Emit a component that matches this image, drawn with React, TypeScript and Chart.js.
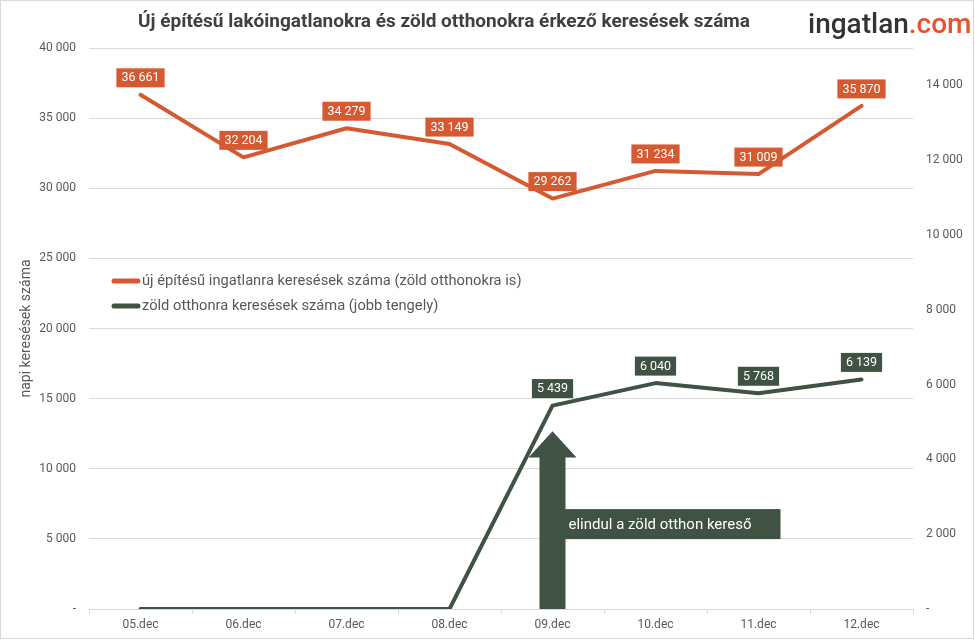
import React, { useEffect, useRef } from "react";
import { Chart, registerables } from "chart.js";

Chart.register(...registerables);

const categories = ["05.dec", "06.dec", "07.dec", "08.dec", "09.dec", "10.dec", "11.dec", "12.dec"];
const newBuildSearches = [36661, 32204, 34279, 33149, 29262, 31234, 31009, 35870];
const greenHomeSearches = [0, 0, 0, 0, 5439, 6040, 5768, 6139];
const leftTicks = [0, 5000, 10000, 15000, 20000, 25000, 30000, 35000, 40000];
const rightTicks = [0, 2000, 4000, 6000, 8000, 10000, 12000, 14000];

const titleText = "Új építésű lakóingatlanokra és zöld otthonokra érkező keresések száma";
const legendLabels = [
  "új építésű ingatlanra keresések száma (zöld otthonokra is)",
  "zöld otthonra keresések száma (jobb tengely)",
];
const yAxisTitle = "napi keresések száma";
const annotationText = "elindul a zöld otthon kereső";
const annotationIndex = 4;
const arrowTipValue = 4750;
const arrowHeadBaseValue = 4050;
const boxCenterValue = 2270;

const ORANGE = "#D65A31";
const GREEN = "#3F5244";
const GRID = "#D9D9D9";
const TEXT = "#595959";
const FONT = "Roboto, 'Noto Sans', sans-serif";

const fmt = (n: number) => (n === 0 ? "-" : String(n).replace(/\B(?=(\d{3})+(?!\d))/g, " "));

export default function App() {
  const ref = useRef<HTMLCanvasElement | null>(null);

  useEffect(() => {
    document.body.style.margin = "0";
    const canvas = ref.current;
    if (!canvas) return;

    const decorPlugin = {
      id: "decor",
      afterDatasetsDraw(chart: any) {
        const ctx = chart.ctx as CanvasRenderingContext2D;
        const x = chart.scales.x;
        const y = chart.scales.y;
        const y1 = chart.scales.y1;

        const drawLabels = (data: number[], scale: any, color: string) => {
          ctx.save();
          ctx.font = `12.5px ${FONT}`;
          ctx.textAlign = "center";
          ctx.textBaseline = "middle";
          data.forEach((v, i) => {
            if (v === 0) return;
            const px = x.getPixelForValue(i);
            const py = scale.getPixelForValue(v);
            const t = fmt(v);
            const w = ctx.measureText(t).width + 10;
            const h = 19;
            const cy = py - 17;
            ctx.fillStyle = color;
            ctx.fillRect(px - w / 2, cy - h / 2, w, h);
            ctx.fillStyle = "#FFFFFF";
            ctx.fillText(t, px, cy + 0.5);
          });
          ctx.restore();
        };
        drawLabels(newBuildSearches, y, ORANGE);
        drawLabels(greenHomeSearches, y1, GREEN);

        const ax = x.getPixelForValue(annotationIndex);
        const tip = y1.getPixelForValue(arrowTipValue);
        const base = y1.getPixelForValue(arrowHeadBaseValue);
        const bottom = y1.getPixelForValue(0);
        ctx.save();
        ctx.fillStyle = GREEN;
        ctx.beginPath();
        ctx.moveTo(ax - 13, bottom);
        ctx.lineTo(ax - 13, base);
        ctx.lineTo(ax - 24, base);
        ctx.lineTo(ax, tip);
        ctx.lineTo(ax + 24, base);
        ctx.lineTo(ax + 13, base);
        ctx.lineTo(ax + 13, bottom);
        ctx.closePath();
        ctx.fill();
        const bcy = y1.getPixelForValue(boxCenterValue);
        ctx.fillRect(ax + 12, bcy - 15, 216, 30);
        ctx.fillStyle = "#FFFFFF";
        ctx.font = `15px ${FONT}`;
        ctx.textAlign = "left";
        ctx.textBaseline = "middle";
        ctx.fillText(annotationText, ax + 16, bcy + 1);
        ctx.restore();
      },
      afterDraw(chart: any) {
        const ctx = chart.ctx as CanvasRenderingContext2D;
        const W = chart.width;
        const H = chart.height;
        ctx.save();
        ctx.fillStyle = "#404040";
        ctx.font = `bold 19px ${FONT}`;
        ctx.textAlign = "center";
        ctx.textBaseline = "middle";
        ctx.fillText(titleText, 444, 22);
        ctx.font = `500 28px ${FONT}`;
        ctx.textAlign = "left";
        ctx.textBaseline = "alphabetic";
        ctx.fillStyle = "#333333";
        const logoX = 808;
        ctx.fillText("ingatlan", logoX, 33);
        const lw = ctx.measureText("ingatlan").width;
        ctx.fillStyle = "#E8532E";
        ctx.fillText(".com", logoX + lw, 33);
        const colors = [ORANGE, GREEN];
        ctx.font = `14.7px ${FONT}`;
        ctx.textBaseline = "middle";
        legendLabels.forEach((lab, i) => {
          const ly = 281 + i * 25;
          ctx.strokeStyle = colors[i];
          ctx.lineWidth = 5;
          ctx.lineCap = "round";
          ctx.beginPath();
          ctx.moveTo(114, ly);
          ctx.lineTo(138, ly);
          ctx.stroke();
          ctx.fillStyle = TEXT;
          ctx.fillText(lab, 142, ly);
        });
        ctx.strokeStyle = GRID;
        ctx.lineWidth = 1;
        ctx.lineCap = "butt";
        ctx.strokeRect(0.5, 0.5, W - 2, H - 2);
        ctx.restore();
      },
    };

    const chart = new Chart(canvas, {
      type: "line",
      data: {
        labels: categories,
        datasets: [
          {
            label: legendLabels[0],
            data: newBuildSearches,
            borderColor: ORANGE,
            backgroundColor: ORANGE,
            borderWidth: 4,
            pointRadius: 0,
            tension: 0,
            borderJoinStyle: "round",
            borderCapStyle: "round",
            yAxisID: "y",
          },
          {
            label: legendLabels[1],
            data: greenHomeSearches,
            borderColor: GREEN,
            backgroundColor: GREEN,
            borderWidth: 4,
            pointRadius: 0,
            tension: 0,
            borderJoinStyle: "round",
            borderCapStyle: "round",
            yAxisID: "y1",
          },
        ],
      },
      options: {
        animation: false,
        responsive: false,
        maintainAspectRatio: false,
        layout: { padding: { left: 0, right: 0, top: 48, bottom: 0 } },
        plugins: {
          legend: { display: false },
          title: { display: false },
          tooltip: { enabled: false },
        },
        scales: {
          x: {
            offset: true,
            grid: {
              display: true,
              offset: true,
              drawOnChartArea: false,
              drawTicks: true,
              tickLength: 5,
              color: GRID,
            },
            border: { display: true, color: GRID, width: 1 },
            ticks: { color: TEXT, font: { family: FONT, size: 12 }, padding: 4, maxRotation: 0 },
            afterFit: (s: any) => {
              s.height = 31;
            },
          },
          y: {
            position: "left",
            min: 0,
            max: 40000,
            afterBuildTicks: (s: any) => {
              s.ticks = leftTicks.map((v) => ({ value: v }));
            },
            grid: { color: GRID, drawTicks: false, lineWidth: (c: any) => (c.tick && c.tick.value === 0 ? 0 : 1) },
            border: { display: false },
            ticks: {
              color: TEXT,
              font: { family: FONT, size: 12 },
              padding: 13,
              callback: (v: any) => fmt(Number(v)),
            },
            title: {
              display: true,
              text: yAxisTitle,
              color: TEXT,
              font: { family: FONT, size: 14 },
              padding: { top: 18, bottom: 0 },
            },
            afterFit: (s: any) => {
              s.width = 89;
            },
          },
          y1: {
            position: "right",
            min: 0,
            max: 15000,
            afterBuildTicks: (s: any) => {
              s.ticks = rightTicks.map((v) => ({ value: v }));
            },
            grid: { display: false, drawTicks: false },
            border: { display: false },
            ticks: {
              color: TEXT,
              font: { family: FONT, size: 12 },
              padding: 13,
              callback: (v: any) => fmt(Number(v)),
            },
            afterFit: (s: any) => {
              s.width = 62;
            },
          },
        },
      },
      plugins: [decorPlugin],
    } as any);

    return () => chart.destroy();
  }, []);

  return (
    <div style={{ width: 975, height: 640, background: "#FFFFFF" }}>
      <canvas ref={ref} width={975} height={640} style={{ display: "block", width: 975, height: 640 }} />
    </div>
  );
}
